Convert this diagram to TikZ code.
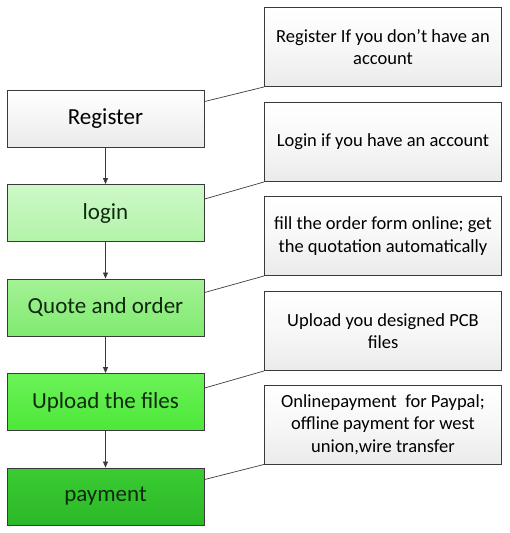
\documentclass[tikz,border=0pt]{standalone}
\usepackage{fontspec}
\setmainfont{Carlito}
\usetikzlibrary{arrows.meta,shadings}
\definecolor{edge}{HTML}{3A3A3A}
\definecolor{txtg}{HTML}{0F2A0F}
\tikzset{
  stepbox/.style={draw=edge, line width=0.9pt, minimum width=197pt, minimum height=57pt, inner sep=0pt, font=\fontsize{23}{27}\selectfont, shading=axis, shading angle=0, text=txtg},
  notebox/.style={draw=edge, line width=0.9pt, minimum width=237pt, minimum height=79pt, inner sep=0pt, font=\fontsize{18.5}{22.7}\selectfont, align=center, top color=white, bottom color=black!8, middle color=black!3},
  flow/.style={draw=edge, line width=0.8pt, -{Triangle[length=6pt,width=5pt]}},
  link/.style={draw=edge, line width=0.7pt}
}
\begin{document}
\begin{tikzpicture}[x=1pt,y=-1pt]
\useasboundingbox (0,0) rectangle (510,533);
\node[stepbox, top color=white, bottom color=black!8, text=black] (reg) at (105.5,118.5) {Register};
\node[stepbox, top color={rgb,255:red,206;green,248;blue,200}, bottom color={rgb,255:red,178;green,244;blue,168}] (log) at (105.5,213) {login};
\node[stepbox, top color={rgb,255:red,164;green,242;blue,150}, bottom color={rgb,255:red,128;green,234;blue,112}] (quo) at (105.5,307.5) {Quote and order};
\node[stepbox, top color={rgb,255:red,108;green,242;blue,88}, bottom color={rgb,255:red,76;green,232;blue,56}] (upl) at (105.5,402) {Upload the files};
\node[stepbox, top color={rgb,255:red,58;green,204;blue,50}, bottom color={rgb,255:red,44;green,184;blue,40}] (pay) at (105.5,496.5) {payment};

\node[notebox] (n1) at (383,47) {Register If you don’t have an\\account};
\node[notebox] (n2) at (383,142) {Login if you have an account};
\node[notebox] (n3) at (383,236) {fill the order form online; get\\the quotation automatically};
\node[notebox] (n4) at (383,331) {Upload you designed PCB\\files};
\node[notebox] (n5) at (383,424.5) {Onlinepayment\ \ for Paypal;\\offline payment for west\\union,wire transfer};

\draw[flow] (reg.south) -- (log.north);
\draw[flow] (log.south) -- (quo.north);
\draw[flow] (quo.south) -- (upl.north);
\draw[flow] (upl.south) -- (pay.north);

\draw[link] ([yshift=-12pt]reg.north east) -- (n1.south west);
\draw[link] ([yshift=-15pt]log.north east) -- (n2.south west);
\draw[link] ([yshift=-14pt]quo.north east) -- (n3.south west);
\draw[link] ([yshift=-15pt]upl.north east) -- (n4.south west);
\draw[link] ([yshift=-12pt]pay.north east) -- (n5.south west);
\end{tikzpicture}
\end{document}
